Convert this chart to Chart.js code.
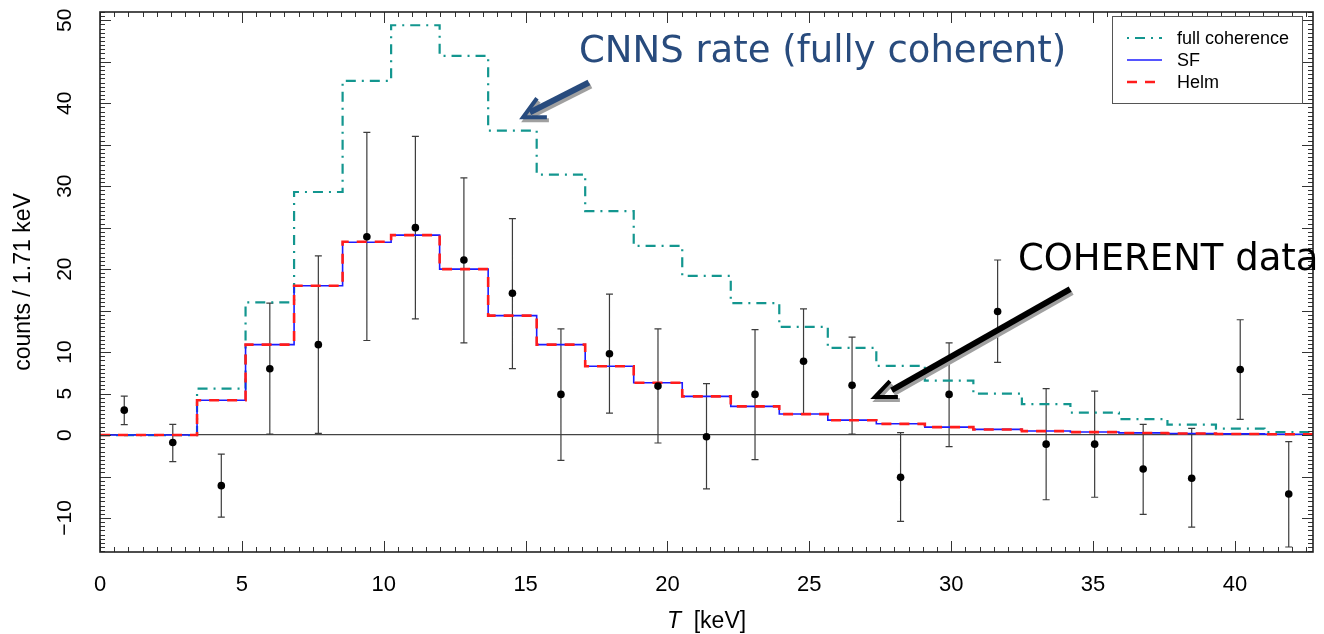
<!DOCTYPE html>
<html>
<head>
<meta charset="utf-8">
<script src="https://cdn.jsdelivr.net/npm/chart.js@4/dist/chart.umd.min.js"></script>
<style>
  html, body { margin: 0; padding: 0; background: #fff; }
</style>
</head>
<body>
<canvas id="spectrum" width="1324" height="634"></canvas>
<script>
// bins of 1.71 keV in recoil energy T
const binEdges = [0, 1.71, 3.42, 5.13, 6.84, 8.55, 10.26, 11.97, 13.68, 15.39, 17.1, 18.81, 20.52,
  22.23, 23.94, 25.65, 27.36, 29.07, 30.78, 32.49, 34.2, 35.91, 37.62, 39.33, 41.04, 42.75];
const binCenters = [0.855, 2.565, 4.275, 5.985, 7.695, 9.405, 11.115, 12.825, 14.535, 16.245, 17.955,
  19.665, 21.375, 23.085, 24.795, 26.505, 28.215, 29.925, 31.635, 33.345, 35.055, 36.765, 38.475,
  40.185, 41.895];

// predicted rates per bin
const fullCoherence = [0, 0, 5.6, 16.0, 29.3, 42.7, 49.4, 45.7, 36.7, 31.4, 27.0, 22.8, 19.2, 15.9,
  13.05, 10.5, 8.35, 6.55, 5.0, 3.73, 2.7, 1.93, 1.25, 0.77, 0.36];
const sfRate = [0, 0, 4.2, 10.9, 18.0, 23.25, 24.1, 20.0, 14.4, 10.9, 8.3, 6.3, 4.66, 3.45, 2.53,
  1.8, 1.36, 0.96, 0.68, 0.48, 0.36, 0.26, 0.19, 0.14, 0.1];
const helmRate = [0, 0, 4.2, 10.9, 18.0, 23.3, 24.1, 20.0, 14.4, 10.9, 8.3, 6.3, 4.66, 3.45, 2.52,
  1.79, 1.35, 0.95, 0.67, 0.47, 0.35, 0.25, 0.18, 0.13, 0.09];

// COHERENT data with error bar ends
const dataCounts = [3.0, -0.9, -6.1, 8.0, 10.9, 23.9, 25.0, 21.1, 17.1, 4.9, 9.8, 5.9, -0.2, 4.9,
  8.9, 6.0, -5.1, 4.9, 14.9, -1.1, -1.1, -4.1, -5.2, 7.9, -7.1];
const dataLow = [1.25, -3.2, -9.9, 0.1, 0.2, 11.4, 14.0, 11.1, 8.0, -3.05, 2.65, -0.96, -6.5, -2.97,
  2.5, 0.1, -10.4, -1.4, 8.76, -7.8, -7.5, -9.56, -11.1, 1.89, -13.5];
const dataHigh = [4.7, 1.28, -2.3, 15.9, 21.6, 36.5, 36.0, 31.0, 26.1, 12.8, 17.0, 12.8, 6.2, 12.7,
  15.2, 11.8, 0.28, 11.1, 21.1, 5.6, 5.3, 1.28, 0.8, 13.9, -0.8];

const xTicks = [0, 5, 10, 15, 20, 25, 30, 35, 40];
const yTicks = [-10, 0, 5, 10, 20, 30, 40, 50];

const TEAL = '#13968f';
const BLUE = '#1c1cff';
const RED = '#ff1c1c';
const TICK_FONT = '"Liberation Sans", Arial, sans-serif';
const NOTE_FONT = '"DejaVu Sans", sans-serif';

// histogram outline: one point per left edge, last one closes the final bin
function histPoints(vals) {
  return binEdges.map((e, i) => ({ x: e, y: vals[Math.min(i, vals.length - 1)] }));
}

function fmtTick(v) {
  return v < 0 ? '\u2212' + Math.abs(v) : String(v);
}

const errorBars = {
  id: 'errorBars',
  beforeDatasetsDraw(chart) {
    const { ctx, scales: { x, y } } = chart;
    ctx.save();
    ctx.strokeStyle = '#3c3c3c';
    ctx.lineWidth = 1.2;
    ctx.beginPath();
    binCenters.forEach((c, i) => {
      const px = x.getPixelForValue(c);
      const lo = y.getPixelForValue(dataLow[i]);
      const hi = y.getPixelForValue(dataHigh[i]);
      ctx.moveTo(px, lo); ctx.lineTo(px, hi);
      ctx.moveTo(px - 3.5, lo); ctx.lineTo(px + 3.5, lo);
      ctx.moveTo(px - 3.5, hi); ctx.lineTo(px + 3.5, hi);
    });
    ctx.stroke();
    ctx.restore();
  }
};

function drawArrow(ctx, x, y, pts, color) {
  const P = pts.map(p => [x.getPixelForValue(p[0]), y.getPixelForValue(p[1])]);
  const [start, end, tip, w1, w2] = P;
  const pass = (dx, dy, col) => {
    ctx.strokeStyle = col;
    ctx.lineCap = 'butt';
    ctx.lineJoin = 'miter';
    ctx.lineWidth = 6;
    ctx.beginPath();
    ctx.moveTo(start[0] + dx, start[1] + dy);
    ctx.lineTo(end[0] + dx, end[1] + dy);
    ctx.stroke();
    ctx.lineWidth = 4;
    ctx.beginPath();
    ctx.moveTo(w1[0] + dx, w1[1] + dy);
    ctx.lineTo(tip[0] + dx, tip[1] + dy);
    ctx.lineTo(w2[0] + dx, w2[1] + dy);
    ctx.stroke();
  };
  pass(2, 3, '#a0a0a0');
  pass(0, 0, color);
}

const frame = {
  id: 'frame',
  afterDraw(chart) {
    const { ctx, chartArea: a, scales: { x, y } } = chart;
    ctx.save();

    // inward ticks on all four sides
    ctx.strokeStyle = '#333';
    ctx.lineWidth = 1;
    ctx.beginPath();
    for (let k = 0; k * 0.5 <= x.max + 1e-9; k++) {
      const px = Math.round(x.getPixelForValue(k * 0.5)) + 0.5;
      const len = k % 10 === 0 ? 11 : 5;
      ctx.moveTo(px, a.bottom); ctx.lineTo(px, a.bottom - len);
      ctx.moveTo(px, a.top); ctx.lineTo(px, a.top + len);
    }
    for (let k = Math.ceil(y.min * 2); k <= Math.floor(y.max * 2); k++) {
      const py = Math.round(y.getPixelForValue(k / 2)) + 0.5;
      const len = k % 10 === 0 ? 11 : 5;
      ctx.moveTo(a.left, py); ctx.lineTo(a.left + len, py);
      ctx.moveTo(a.right, py); ctx.lineTo(a.right - len, py);
    }
    ctx.stroke();

    ctx.strokeStyle = '#222';
    ctx.lineWidth = 1.6;
    ctx.strokeRect(a.left, a.top, a.right - a.left, a.bottom - a.top);

    // rotated y tick labels
    ctx.fillStyle = '#000';
    ctx.font = '21px ' + TICK_FONT;
    ctx.textAlign = 'center';
    ctx.textBaseline = 'middle';
    y.ticks.forEach(t => {
      ctx.save();
      ctx.translate(a.left - 35, y.getPixelForValue(t.value));
      ctx.rotate(-Math.PI / 2);
      ctx.fillText(fmtTick(t.value), 0, 0);
      ctx.restore();
    });

    // axis titles
    ctx.save();
    ctx.font = '23px ' + TICK_FONT;
    ctx.translate(24, (a.top + a.bottom) / 2);
    ctx.rotate(-Math.PI / 2);
    ctx.fillText('counts / 1.71 keV', 0, 0);
    ctx.restore();

    ctx.textAlign = 'left';
    ctx.textBaseline = 'alphabetic';
    ctx.font = 'italic 23px ' + TICK_FONT;
    const wT = ctx.measureText('T').width;
    ctx.font = '23px ' + TICK_FONT;
    const rest = '  [keV]';
    const wR = ctx.measureText(rest).width;
    const tx = (a.left + a.right) / 2 - (wT + wR) / 2;
    ctx.font = 'italic 23px ' + TICK_FONT;
    ctx.fillText('T', tx, 628);
    ctx.font = '23px ' + TICK_FONT;
    ctx.fillText(rest, tx + wT, 628);

    // legend box
    const bx = a.right - 201, by = a.top + 4, bw = 190, bh = 87;
    ctx.fillStyle = '#fff';
    ctx.fillRect(bx, by, bw, bh);
    ctx.strokeStyle = '#555';
    ctx.lineWidth = 1;
    ctx.strokeRect(bx + 0.5, by + 0.5, bw, bh);
    const rows = [
      { label: 'full coherence', color: TEAL, dash: [2, 6, 10, 6], width: 2.2 },
      { label: 'SF', color: BLUE, dash: [], width: 1.6 },
      { label: 'Helm', color: RED, dash: [10, 8], width: 2.6 }
    ];
    rows.forEach((r, i) => {
      const ry = by + 22 + i * 22;
      ctx.strokeStyle = r.color;
      ctx.lineWidth = r.width;
      ctx.setLineDash(r.dash);
      ctx.beginPath();
      ctx.moveTo(bx + 15, ry); ctx.lineTo(bx + 50, ry);
      ctx.stroke();
      ctx.setLineDash([]);
      ctx.fillStyle = '#000';
      ctx.font = '18px ' + TICK_FONT;
      ctx.textBaseline = 'middle';
      ctx.fillText(r.label, bx + 65, ry + 1);
    });

    // annotations, placed in data coordinates
    ctx.textBaseline = 'alphabetic';
    ctx.font = '37px ' + NOTE_FONT;
    ctx.fillStyle = '#284b7d';
    ctx.fillText('CNNS rate (fully coherent)', x.getPixelForValue(16.88), y.getPixelForValue(44.94));
    ctx.fillStyle = '#000';
    ctx.fillText('COHERENT data', x.getPixelForValue(32.35), y.getPixelForValue(19.88));

    drawArrow(ctx, x, y, [[17.23, 42.5], [15.15, 38.9], [14.91, 38.3], [15.4, 40.6], [15.75, 38.3]], '#284b7d');
    drawArrow(ctx, x, y, [[34.19, 17.6], [27.9, 5.4], [27.31, 4.58], [27.84, 6.5], [28.12, 4.58]], '#000');

    ctx.restore();
  }
};

new Chart(document.getElementById('spectrum'), {
  type: 'line',
  data: {
    datasets: [
      {
        label: 'COHERENT data',
        data: binCenters.map((c, i) => ({ x: c, y: dataCounts[i] })),
        showLine: false,
        pointRadius: 3.8,
        pointBackgroundColor: '#000',
        pointBorderWidth: 0
      },
      {
        label: 'Helm',
        data: histPoints(helmRate),
        stepped: 'before',
        borderColor: RED,
        borderWidth: 2.6,
        borderDash: [10, 8],
        pointRadius: 0,
        fill: false
      },
      {
        label: 'SF',
        data: histPoints(sfRate),
        stepped: 'before',
        borderColor: BLUE,
        borderWidth: 1.6,
        pointRadius: 0,
        fill: false
      },
      {
        label: 'full coherence',
        data: histPoints(fullCoherence),
        stepped: 'before',
        borderColor: TEAL,
        borderWidth: 2.2,
        borderDash: [10, 6, 2, 6],
        pointRadius: 0,
        fill: false
      }
    ]
  },
  options: {
    responsive: false,
    animation: false,
    devicePixelRatio: 1,
    layout: { padding: { top: 12, right: 11, left: 0, bottom: 0 } },
    plugins: { legend: { display: false }, tooltip: { enabled: false } },
    scales: {
      x: {
        type: 'linear',
        min: 0,
        max: 42.75,
        afterBuildTicks: s => { s.ticks = xTicks.map(v => ({ value: v })); },
        afterFit: s => { s.height = 82; },
        grid: { display: false, drawTicks: false },
        border: { display: false },
        ticks: {
          color: '#000',
          padding: 20,
          maxRotation: 0,
          font: { family: 'Liberation Sans', size: 22 },
          callback: v => fmtTick(v)
        }
      },
      y: {
        type: 'linear',
        min: -14.1,
        max: 51,
        afterBuildTicks: s => { s.ticks = yTicks.map(v => ({ value: v })); },
        afterFit: s => { s.width = 100; },
        grid: {
          drawTicks: false,
          lineWidth: 1.2,
          color: c => (c.tick && c.tick.value === 0 ? '#444' : 'rgba(0,0,0,0)')
        },
        border: { display: false },
        ticks: { display: false }
      }
    }
  },
  plugins: [errorBars, frame]
});
</script>
</body>
</html>
